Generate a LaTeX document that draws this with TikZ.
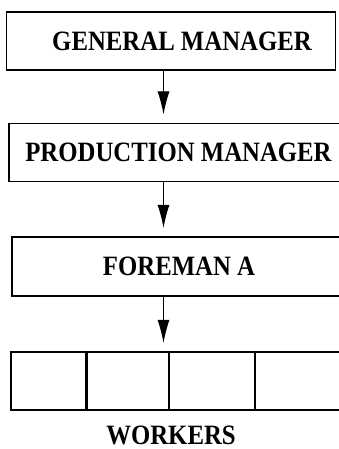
\documentclass[tikz,border=0pt]{standalone}
\usepackage{fontspec}
\setmainfont{Liberation Serif}[FakeStretch=0.885,UprightFont=* Bold]
\usetikzlibrary{arrows.meta}
\tikzset{%
  box/.style={draw,line width=1.1pt,inner sep=0,minimum height=58pt,font=\fontsize{28}{30}\selectfont},
  cell/.style={draw,line width=1.1pt,inner sep=0,minimum height=58pt},
  arr/.style={draw,line width=1pt,-{Latex[length=23pt,width=12pt]},shorten >=8.5pt}
}

\begin{document}
\begin{tikzpicture}[x=1pt,y=-1pt]
    \useasboundingbox (0,0) rectangle (338,449);
    \coordinate (axis) at (163.5,0);
    \path
      (171,41) node[box,minimum width=329pt] (gm) {\hspace*{22pt}GENERAL MANAGER}
      (175,152.5) node[box,minimum width=332pt] (pm) {\hspace*{7pt}PRODUCTION MANAGER}
      (176.5,266.5) node[box,minimum width=329pt,minimum height=59pt] (fa) {\hspace*{5pt}FOREMAN A}
      (48.5,381) node[cell,minimum width=75pt] (w1) {};
    \path
      (w1.east) node[cell,anchor=west,minimum width=81pt] (w2) {}
      (w2.east) node[cell,anchor=west,minimum width=85pt] (w3) {}
      (w3.east) node[cell,anchor=west,minimum width=89pt] (w4) {}
      (171,444) node[anchor=base,inner sep=0,font=\fontsize{28}{30}\selectfont] (wk) {WORKERS};
    \draw[arr] (gm.south -| axis) -- (pm.north -| axis);
    \draw[arr] (pm.south -| axis) -- (fa.north -| axis);
    \draw[arr] (fa.south -| axis) -- (w1.north -| axis);
  \end{tikzpicture}
\end{document}
